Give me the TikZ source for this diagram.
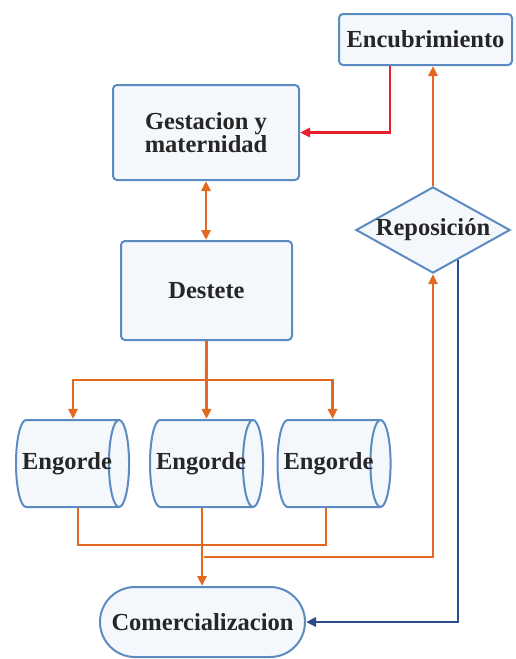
\documentclass[tikz,border=0pt]{standalone}
\usepackage{fontspec}
\setmainfont{Liberation Serif}
\usetikzlibrary{shapes.geometric,shapes.misc,arrows.meta,calc}
\definecolor{boxblue}{HTML}{5B8BC0}
\definecolor{boxfill}{HTML}{F4F8FC}
\definecolor{corange}{HTML}{E2691F}
\definecolor{cred}{HTML}{E8202A}
\definecolor{cnavy}{HTML}{2B4C8C}
\begin{document}
\begin{tikzpicture}[x=1pt,y=-1pt,
  every node/.style={font=\bfseries\fontsize{24.5}{22}\selectfont, text=black!85},
  boxnode/.style={draw=boxblue, line width=2pt, fill=boxfill, rounded corners=4pt, align=center, inner sep=0pt},
  dia/.style={diamond, aspect=1.79, draw=boxblue, line width=2pt, fill=boxfill, inner sep=0pt, minimum width=150pt, minimum height=84pt},
  cyl/.style={cylinder, draw=boxblue, line width=2pt, cylinder uses custom fill, cylinder body fill=boxfill, cylinder end fill=boxfill, shape aspect=0.9, minimum width=87pt, minimum height=100pt, inner ysep=0pt, inner xsep=-4pt},
  stad/.style={rounded rectangle, draw=boxblue, line width=2pt, fill=boxfill, minimum width=205pt, minimum height=70pt, inner sep=0pt},
  arr/.style={draw=corange, line width=2.5pt, -{Triangle[length=10pt,width=9pt]}},
  ln/.style={draw=corange, line width=2.5pt},
]
\useasboundingbox (0,0) rectangle (516,659);
\node[boxnode, minimum width=173pt, minimum height=51pt] (enc) at (425.5,39.5) {Encubrimiento};
\node[boxnode, minimum width=186pt, minimum height=95pt] (gest) at (206,132.5) {Gestacion y\\maternidad};
\node[boxnode, minimum width=171pt, minimum height=99pt] (dest) at (206.5,290.5) {Destete};
\node[dia] (rep) at (433,230) {Reposición};
\node[cyl] (e1) at (67,463.5) {Engorde};
\node[cyl] (e2) at (201,463.5) {Engorde};
\node[cyl] (e3) at (328.5,463.5) {Engorde};
\node[stad] (com) at (202.5,622) {Comercializacion};

\coordinate (sp) at (206,380);
\coordinate (jn) at (204,545);
\coordinate (jn2) at (204,557);

% red
\draw[draw=cred, line width=2.5pt, -{Triangle[length=10pt,width=9pt]}] ([xshift=-35.5pt]enc.south) |- (gest.east);
% orange up into Encubrimiento
\draw[arr] (rep.north) -- (rep.north |- enc.south);
% gest <-> destete
\draw[arr, {Triangle[length=10pt,width=9pt]}-{Triangle[length=10pt,width=9pt]}] (gest.south) -- (gest.south |- dest.north);
% destete split
\draw[ln] (dest.south) -- (sp);
\draw[arr] (sp) -| ([xshift=6pt]e1.north);
\draw[arr] (sp) -| ([xshift=4pt]e3.north);
\draw[arr] (dest.south) -- (dest.south |- e2.north);
% bottoms
\draw[ln] ([xshift=11pt]e1.south) |- (jn) -| ([xshift=-2.5pt]e3.south);
\draw[arr] ([xshift=1pt]e2.south) -- ([xshift=1pt]e2.south |- com.north);
\draw[arr] (jn2) -| (rep.south);
% navy
\draw[draw=cnavy, line width=2.5pt, -{Triangle[length=10pt,width=9pt]}] (rep.-50) |- (com.east);
\end{tikzpicture}
\end{document}
